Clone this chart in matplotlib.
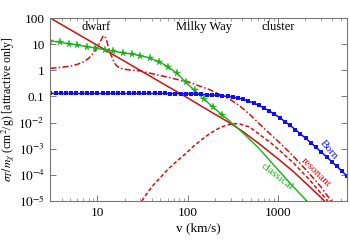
import numpy as np
import matplotlib
matplotlib.use("Agg")
import matplotlib.pyplot as plt
from matplotlib.ticker import FixedLocator, LogLocator, NullFormatter

plt.rcParams['font.family'] = ['Liberation Serif', 'DejaVu Serif']
plt.rcParams['mathtext.fontset'] = 'stix'

# Born (blue, dense square markers)
born_v = [3.0, 3.43, 3.91, 4.47, 5.11, 5.83, 6.66, 7.62, 8.70, 9.94,
          11.4, 13.0, 14.8, 16.9, 19.3, 22.1, 25.2, 28.8, 32.9, 37.6,
          43.0, 49.1, 56.1, 64.0, 73.1, 83.6, 95.5, 109, 124, 142,
          163, 186, 212, 242, 277, 316, 361, 413, 471, 538,
          615, 703, 803, 916, 1047, 1197, 1368, 1563, 1782, 2037,
          2328, 2661, 3041, 3467, 3963, 4529, 5176, 5916]
born_s = [0.13] * 22 + [0.13, 0.129, 0.129, 0.128, 0.127, 0.125, 0.123, 0.120,
          0.117, 0.114, 0.110, 0.106, 0.100, 0.094, 0.086, 0.077, 0.067, 0.056,
          0.046, 0.036, 0.028, 0.021, 0.0155, 0.011, 0.0078, 0.0054, 0.0037, 0.0025,
          0.0017, 0.00112, 0.00074, 0.00049, 0.00032, 0.00021, 0.000135, 0.000087]

# classical (green line) and numerical points (green stars)
class_v = [3, 4, 5, 7, 10, 14, 20, 25, 30, 35, 40, 50, 60, 70, 80, 100,
           130, 160, 200, 250, 300, 400, 600, 1000, 1500, 2100]
class_s = [13.5, 11.5, 10.2, 8.5, 6.9, 5.6, 4.6, 4.1, 3.65, 3.2, 2.75, 2.0,
           1.4, 0.95, 0.65, 0.3, 0.13, 0.067, 0.034, 0.018, 0.0105, 0.0044,
           0.00115, 1.6e-4, 3.4e-5, 1e-5]
star_v = [3.0, 3.8, 4.8, 6.0, 7.6, 9.5, 12, 15, 19, 24, 30, 38, 48, 60,
          76, 95, 120, 150, 190, 240]
star_s = [13.5, 11.8, 10.3, 9.3, 8.1, 7.1, 6.2, 5.4, 4.7, 4.2, 3.65, 2.9,
          2.1, 1.4, 0.76, 0.36, 0.17, 0.082, 0.04, 0.02]

# resonant curves (red)
red1_v = [3, 10, 30, 100, 200, 293, 400, 600, 1000, 1500, 2200, 3300, 4000]
red1_s = [100, 9.0, 0.98, 0.088, 0.021, 0.0098, 0.0048, 0.0017, 4.2e-4,
          1.3e-4, 3.8e-5, 1e-5, 5e-6]

red2_v = [3, 4, 5, 6, 7, 8, 9, 10, 10.8, 11.5, 12, 12.5, 13.2, 14, 15, 16,
          17.5, 20, 25, 30, 40, 60, 80, 106, 136, 170, 227, 300, 380, 500,
          650, 850, 1050, 1500, 2200, 3000, 4000]
red2_s = [1.19, 1.3, 1.45, 1.7, 2.1, 2.9, 4.5, 7.5, 13, 20, 21, 16, 8, 4.2,
          2.4, 1.6, 1.25, 1.1, 1.0, 0.95, 0.75, 0.55, 0.43, 0.34, 0.25, 0.19,
          0.12, 0.075, 0.043, 0.019, 0.0078, 0.0033, 0.0017, 5e-4, 1.2e-4,
          3.5e-5, 9e-6]

red3_v = [31, 40, 49, 60, 75, 95, 115, 140, 176, 220, 269, 320, 380, 486,
          650, 850, 1050, 1500, 2200, 3000, 3600]
red3_s = [1e-5, 3.5e-5, 7.4e-5, 1.6e-4, 3.2e-4, 6.5e-4, 1.2e-3, 2.1e-3,
          0.0038, 0.006, 0.008, 0.0092, 0.0088, 0.0068, 0.0032, 0.0016,
          8.5e-4, 2.8e-4, 7e-5, 2e-5, 1e-5]

yticks = [100, 10, 1, 0.1, 1e-2, 1e-3, 1e-4, 1e-5]
ylabels = ['100', '10', '1', '0.1', r'$10^{-2}$', r'$10^{-3}$', r'$10^{-4}$', r'$10^{-5}$']

red = '#cc1111'
blue = '#1010ee'
green = '#18b018'

fig = plt.figure(figsize=(3.5, 2.41), dpi=100)
ax = fig.add_axes([0.1437, 0.166, 0.8477, 0.759])

ax.plot(red1_v, red1_s, color=red, lw=1.1)
ax.plot(red2_v, red2_s, color=red, lw=1.1, dashes=(4, 1.5, 1, 1.5))
ax.plot(red3_v, red3_s, color=red, lw=1.1, dashes=(2.5, 1.5))
ax.plot(class_v, class_s, color=green, lw=1.0)
ax.plot(star_v, star_s, ls='none', marker='*', ms=5.5, mew=0.3, color=green)
ax.plot(born_v, born_s, color=blue, lw=1.1, marker='s', ms=2.3, mew=0)

ax.set_xscale('log')
ax.set_yscale('log')
ax.set_xlim(3, 5850)
ax.set_ylim(1e-5, 100)

ax.yaxis.set_major_locator(FixedLocator(yticks))
ax.set_yticklabels(ylabels)
ax.yaxis.set_minor_locator(LogLocator(base=10, subs=np.arange(2, 10)))
ax.yaxis.set_minor_formatter(NullFormatter())
ax.set_xticks([10, 100, 1000])
ax.set_xticklabels(['10', '100', '1000'])
ax.xaxis.set_minor_locator(LogLocator(base=10, subs=np.arange(2, 10)))
ax.xaxis.set_minor_formatter(NullFormatter())

ax.tick_params(which='both', direction='in', top=True, right=True, color='#777777',
               labelsize=9.5, pad=4)
ax.tick_params(which='major', length=4, width=0.7)
ax.tick_params(which='minor', length=2, width=0.5)
for sp in ax.spines.values():
    sp.set_color('#777777')
    sp.set_linewidth(0.8)

ax.set_xlabel('v (km/s)', fontsize=9.5, labelpad=3)
ax.set_ylabel(r'$\sigma_T/m_\chi$ (cm$^2$/g) [attractive only]', fontsize=8.5)
ax.yaxis.set_label_coords(-0.108, 0.5)

ax.text(9.6, 45, 'dwarf', fontsize=9, ha='center', va='center')
ax.text(150, 45, 'Milky Way', fontsize=9, ha='center', va='center')
ax.text(1000, 45, 'cluster', fontsize=9, ha='center', va='center')

ax.text(3660, 8.9e-4, 'Born', fontsize=8, color=blue, rotation=-50, ha='center', va='center')
ax.text(2650, 1.2e-4, 'resonant', fontsize=8, color=red, rotation=-45, ha='center', va='center')
ax.text(985, 8.7e-5, 'classical', fontsize=8, color=green, rotation=-38, ha='center', va='center')

fig.savefig('out.png', dpi=100)
